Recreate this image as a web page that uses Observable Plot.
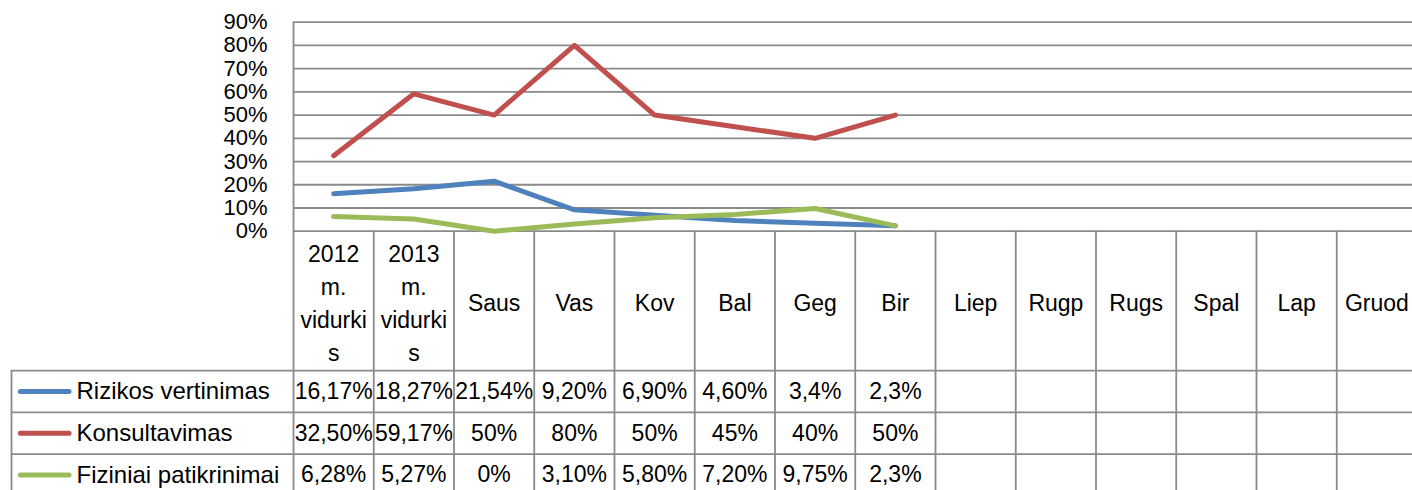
<!DOCTYPE html>
<html>
<head>
<meta charset="utf-8">
<script src="https://cdn.jsdelivr.net/npm/d3@7"></script>
<script src="https://cdn.jsdelivr.net/npm/@observablehq/plot@0.6"></script>
<style>
  html, body { margin: 0; padding: 0; background: #fff; overflow: hidden; }
  #chart svg { display: block; }
</style>
</head>
<body>
<div id="chart"></div>
<script>
// ---- data ----
const categories = ["2012 m. vidurkis", "2013 m. vidurkis", "Saus", "Vas", "Kov", "Bal", "Geg", "Bir", "Liep", "Rugp", "Rugs", "Spal", "Lap", "Gruod"];
const headerLabels = ["2012\nm.\nvidurki\ns", "2013\nm.\nvidurki\ns", "Saus", "Vas", "Kov", "Bal", "Geg", "Bir", "Liep", "Rugp", "Rugs", "Spal", "Lap", "Gruod"];
const seriesNames = ["Rizikos vertinimas", "Konsultavimas", "Fiziniai patikrinimai"];
const seriesColors = ["#4F81BD", "#C0504D", "#9BBB59"];
const rizikos = [0.1617, 0.1827, 0.2154, 0.092, 0.069, 0.046, 0.034, 0.023];
const konsultavimas = [0.325, 0.5917, 0.50, 0.80, 0.50, 0.45, 0.40, 0.50];
const fiziniai = [0.0628, 0.0527, 0.0, 0.031, 0.058, 0.072, 0.0975, 0.023];
const rizikosLabels = ["16,17%", "18,27%", "21,54%", "9,20%", "6,90%", "4,60%", "3,4%", "2,3%"];
const konsultavimasLabels = ["32,50%", "59,17%", "50%", "80%", "50%", "45%", "40%", "50%"];
const fiziniaiLabels = ["6,28%", "5,27%", "0%", "3,10%", "5,80%", "7,20%", "9,75%", "2,3%"];
const yTicks = [0, 0.1, 0.2, 0.3, 0.4, 0.5, 0.6, 0.7, 0.8, 0.9];

// ---- layout (in scale units) ----
const legendLeft = -3.514;      // left edge of the legend column of the data table
const headerDepth = 0.6;        // header row of the data table
const rowDepth = 0.18;          // each data row
const font = "Liberation Sans, Arial, sans-serif";
const gridColor = "#8a8a8a";

const valuesBySeries = [rizikos, konsultavimas, fiziniai];
const labelsBySeries = [rizikosLabels, konsultavimasLabels, fiziniaiLabels];

const points = [];
valuesBySeries.forEach((vals, s) => vals.forEach((v, i) => points.push({series: seriesNames[s], i, value: v})));

const cells = [];
labelsBySeries.forEach((labs, s) => labs.forEach((t, i) => cells.push({s, i, text: t})));

const rowMid = s => -headerDepth - rowDepth * (s + 0.5);
const rowLines = [0, 1, 2, 3].map(k => -headerDepth - rowDepth * k);
const bottom = -headerDepth - rowDepth * 3;

const plot = Plot.plot({
  width: 1412,
  height: 490,
  margin: 0,
  style: {fontFamily: font, background: "#fff", color: "#000", overflow: "hidden"},
  x: {type: "linear", domain: [0, categories.length], range: [293, 1416.5], axis: null},
  y: {type: "linear", domain: [0, 0.9], range: [230.7, 21.7], axis: null},
  color: {domain: seriesNames, range: seriesColors},
  marks: [
    // horizontal gridlines of the plot area
    Plot.ruleY(yTicks, {x1: 0, x2: categories.length, stroke: gridColor, strokeWidth: 1.8}),
    // vertical axis line of the plot area
    Plot.ruleX([0], {y1: bottom, y2: 0.9, stroke: gridColor, strokeWidth: 1.8}),
    // data table vertical lines
    Plot.ruleX(d3.range(1, categories.length + 1), {y1: bottom, y2: 0, stroke: gridColor, strokeWidth: 1.8}),
    Plot.ruleX([legendLeft], {y1: bottom, y2: -headerDepth, stroke: gridColor, strokeWidth: 1.8}),
    // data table horizontal lines
    Plot.ruleY(rowLines, {x1: legendLeft, x2: categories.length, stroke: gridColor, strokeWidth: 1.8}),
    // series lines
    Plot.line(points, {
      x: d => d.i + 0.5, y: "value", z: "series", stroke: "series",
      strokeWidth: 5, strokeLinecap: "round", strokeLinejoin: "round"
    }),
    // y tick labels
    Plot.text(yTicks, {
      x: 0, y: d => d, text: d => d3.format(".0%")(d),
      textAnchor: "end", dx: -26, fontSize: 22, fill: "#000"
    }),
    // header labels
    Plot.text(headerLabels, {
      x: (d, i) => i + 0.5, y: -headerDepth / 2, text: d => d,
      lineHeight: 1.43, fontSize: 23, fill: "#000"
    }),
    // table values
    Plot.text(cells, {
      x: d => d.i + 0.5, y: d => rowMid(d.s), text: "text",
      fontSize: 23, fill: "#000"
    }),
    // legend keys
    Plot.ruleY(seriesNames, {
      y: (d, s) => rowMid(s), x1: legendLeft + 0.117, x2: legendLeft + 0.723,
      stroke: d => d, strokeWidth: 5, strokeLinecap: "round"
    }),
    Plot.text(seriesNames, {
      x: legendLeft, dx: 65, y: (d, s) => rowMid(s), text: d => d,
      textAnchor: "start", fontSize: 24, fill: "#000"
    })
  ]
});

document.getElementById("chart").appendChild(plot);
</script>
</body>
</html>
